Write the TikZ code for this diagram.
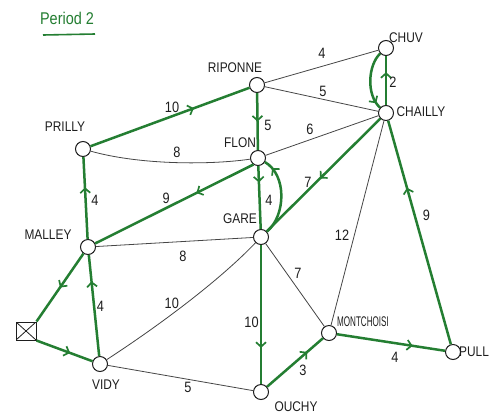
\documentclass[tikz,border=0pt]{standalone}
\usepackage{fontspec}
\setmainfont{Liberation Sans}
\newfontfamily\hand[FakeStretch=0.85]{Liberation Sans}
\usetikzlibrary{arrows.meta,decorations.markings}
\definecolor{gr}{RGB}{36,126,50}
\definecolor{ink}{RGB}{30,30,30}
\definecolor{edgec}{RGB}{70,70,70}
\begin{document}
\begin{tikzpicture}[x=1pt,y=-1pt,
  stn/.style={circle,draw=ink,line width=1pt,fill=white,minimum size=15pt,inner sep=0pt},
  nametext/.style={text=ink,font=\hand\fontsize{14}{14}\selectfont,inner sep=0pt},
  plain/.style={draw=edgec,line width=0.8pt},
  route/.style={draw=gr,line width=2.5pt},
  marker/.style={postaction={decorate,decoration={markings,mark=at position #1 with {\arrow[gr,line width=1.7pt]{Straight Barb[length=4.5pt,width=10pt]}}}}},
  num/.style={text=ink,font=\hand\fontsize{15}{15}\selectfont,inner sep=0pt},
]
\useasboundingbox (0,0) rectangle (492,418);
\fill[white] (0,0) rectangle (492,418);

% title
\node[text=gr,font=\hand\fontsize{17}{17}\selectfont,inner sep=0pt] (title) at (67,18) {Period 2};
\coordinate (ul1) at (43,35);
\coordinate (ul2) at (95,34);
\draw[gr,line width=1.6pt] (ul1) -- (ul2);

% stations
\node[stn] (chuv) at (386,48) {};
\node[stn] (chailly) at (386,113) {};
\node[stn] (rip) at (257,85) {};
\node[stn] (prilly) at (83,149) {};
\node[stn] (flon) at (258,158) {};
\node[stn] (gare) at (261,237) {};
\node[stn] (malley) at (88,247) {};
\node[stn] (vidy) at (100,364) {};
\node[stn] (mont) at (329,333) {};
\node[stn] (ouchy) at (261,392) {};
\node[stn] (pully) at (453,352) {};
\node[draw=ink,line width=1pt,minimum width=20pt,minimum height=18pt,inner sep=0pt,
  path picture={\draw[ink,line width=0.8pt] (path picture bounding box.north west) -- (path picture bounding box.south east)
  (path picture bounding box.north east) -- (path picture bounding box.south west);}] (sq) at (26,331) {};

% station names
\node[nametext] (tchuv) at (406,38) {CHUV};
\node[nametext] (tchailly) at (421,112) {CHAILLY};
\node[nametext] (trip) at (235,68) {RIPONNE};
\node[nametext] (tprilly) at (65,127) {PRILLY};
\node[nametext] (tflon) at (240,143) {FLON};
\node[nametext] (tgare) at (240,219) {GARE};
\node[nametext] (tmalley) at (48,235) {MALLEY};
\node[nametext] (tvidy) at (106,385) {VIDY};
\node[nametext] (tmont) at (363,322) {\scalebox{0.68}[1]{MONTCHOISI}};
\node[nametext] (touchy) at (296,407) {OUCHY};
\node[nametext,anchor=west] (tpully) at (459,352) {PULL};

% plain edges
\draw[plain] (rip) -- node[num,xshift=0.5pt,yshift=13.5pt]{4} (chuv);
\draw[plain] (rip) -- node[num,xshift=1.5pt,yshift=7.5pt]{5} (chailly);
\draw[plain] (prilly) .. controls (140,165) and (210,165) .. node[num,xshift=3pt,yshift=10pt]{8} (flon);
\draw[plain] (flon) -- node[num,xshift=-12pt,yshift=6pt]{6} (chailly);
\draw[plain] (malley) -- node[num,xshift=8.5pt,yshift=-14pt]{8} (gare);
\draw[plain] (gare) .. controls (220,280) and (160,325) .. node[num,xshift=-16pt,yshift=-1pt]{10} (vidy);
\draw[plain] (vidy) -- node[num,xshift=7.5pt,yshift=-9pt]{5} (ouchy);
\draw[plain] (gare) -- node[num,xshift=3pt,yshift=12pt]{7} (mont);
\draw[plain] (chailly) -- node[num,xshift=-15.5pt,yshift=-12pt]{12} (mont);

% route edges
\draw[route,marker=0.65] (prilly) -- node[num,xshift=2pt,yshift=10pt]{10} (rip);
\draw[route,marker=0.5] (rip) -- node[num,xshift=10.5pt,yshift=-3.5pt]{5} (flon);
\draw[route,marker=0.67] (chailly) -- node[num,xshift=7pt,yshift=-1.5pt]{2} (chuv);
\draw[route,marker=0.9] (chuv) .. controls (368,65) and (366,95) .. (chailly);
\draw[route,marker=0.53] (chailly) -- node[num,xshift=-15.5pt,yshift=-7pt]{7} (gare);
\draw[route,marker=0.26] (flon) -- node[num,xshift=9.5pt,yshift=-2.5pt]{4} (gare);
\draw[route,marker=0.88] (gare) .. controls (286,215) and (287,175) .. (flon);
\draw[route,marker=0.36] (flon.235) -- node[num,xshift=-8pt,yshift=6pt]{9} (malley);
\draw[route,marker=0.63] (malley) -- node[num,xshift=9.5pt,yshift=-2pt]{4} (prilly);
\draw[route,marker=0.5] (malley) -- (sq.north east);
\draw[route,marker=0.6] (sq.south east) -- (vidy);
\draw[route,marker=0.74] (vidy) -- node[num,xshift=6.5pt,yshift=-1pt]{4} (malley);
\draw[route,marker=0.74] (gare) -- node[num,xshift=-9.5pt,yshift=-7.5pt]{10} (ouchy);
\draw[route,marker=0.72] (ouchy) -- node[num,xshift=8pt,yshift=-7.5pt]{3} (mont);
\draw[route,marker=0.7] (mont) -- node[num,xshift=4pt,yshift=-14.5pt]{4} (pully);
\draw[route,marker=0.7] (pully) -- node[num,xshift=7pt,yshift=17.5pt]{9} (chailly);
\end{tikzpicture}
\end{document}
